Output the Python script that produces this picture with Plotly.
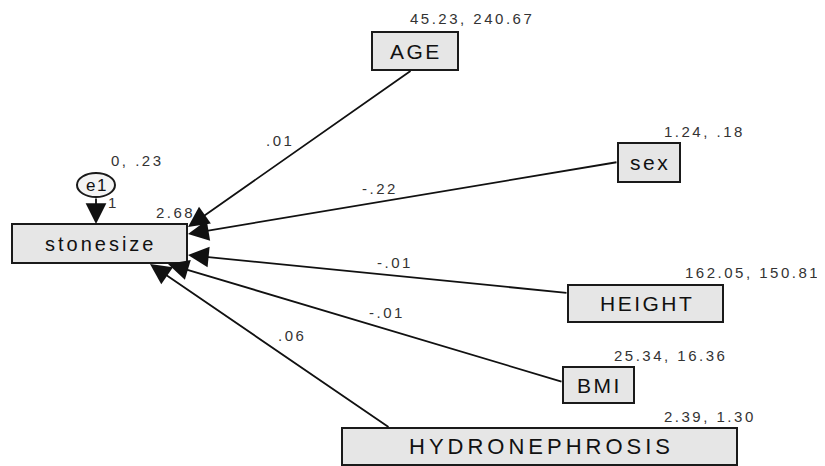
import plotly.graph_objects as go

# ---------------- data ----------------
predictors = ["AGE", "sex", "HEIGHT", "BMI", "HYDRONEPHROSIS"]
pred_means = [45.23, 1.24, 162.05, 25.34, 2.39]
pred_vars = [240.67, 0.18, 150.81, 16.36, 1.30]
path_coefs = [0.01, -0.22, -0.01, -0.01, 0.06]
outcome = "stonesize"
outcome_intercept = 2.68
error_name = "e1"
error_mean = 0
error_var = 0.23
error_loading = 1

# ---------------- layout (pixel positions of the diagram in the page) ----------------
W, H = 825, 466
PAGE_OFF = 8  # default body margin of the html page
outcome_box = (12, 187, 224, 263)
pred_boxes = [(372, 458, 32, 70), (618, 680, 143, 182), (568, 723, 285, 322),
              (563, 634, 367, 403), (342, 737, 428, 465)]
stat_pos = [(472, 18), (704, 131), (752, 272), (670, 355), (710, 416)]
tails = [(412, 70), (618, 162), (568, 293), (563, 382), (390, 428)]
tips = [(188, 227), (188, 234), (188, 255), (168, 264), (150, 264)]
coef_pos = [(280, 140), (380, 188), (395, 262), (387, 312), (292, 335)]
label_sizes = [21, 21, 21, 21, 22]
label_spacing = [2.5, 2.5, 2.5, 2.5, 4]
err_center = (96, 185)
err_r = (19, 12)
intercept_pos = (175, 212)
err_stat_pos = (137, 160)
loading_pos = (112, 202)

FONT = "Liberation Sans, Arial, sans-serif"


def amos(v):
    if v == 0:
        return "0"
    s = f"{v:.2f}"
    if s.startswith("0."):
        s = s[1:]
    elif s.startswith("-0."):
        s = "-" + s[2:]
    return s


def sp(t, ls):
    return f'<span style="letter-spacing:{ls}px">{t}</span>'


fig = go.Figure()
shapes = []
ann = []
AH = dict(arrowhead=2, arrowsize=2.3, arrowwidth=1.8, arrowcolor="#111", standoff=0)

# outcome box
x0, x1, y0, y1 = outcome_box
shapes.append(dict(type="rect", x0=x0, x1=x1, y0=y0, y1=y1, xref="x", yref="y",
                   fillcolor="#e6e6e6", line=dict(color="#1a1a1a", width=2)))
ann.append(dict(x=(x0 + x1) / 2 + 1.5, y=(y0 + y1) / 2, text=sp(outcome, 3), showarrow=False,
                font=dict(family=FONT, size=20, color="#111")))
ann.append(dict(x=intercept_pos[0], y=intercept_pos[1], text=sp(amos(outcome_intercept), 2.5),
                showarrow=False, font=dict(family=FONT, size=15, color="#333")))

# predictor boxes, stats, paths
for i, name in enumerate(predictors):
    x0, x1, y0, y1 = pred_boxes[i]
    shapes.append(dict(type="rect", x0=x0, x1=x1, y0=y0, y1=y1, xref="x", yref="y",
                       fillcolor="#e6e6e6", line=dict(color="#1a1a1a", width=2)))
    ann.append(dict(x=(x0 + x1) / 2 + label_spacing[i] / 2, y=(y0 + y1) / 2,
                    text=sp(name, label_spacing[i]), showarrow=False,
                    font=dict(family=FONT, size=label_sizes[i], color="#111")))
    ann.append(dict(x=stat_pos[i][0], y=stat_pos[i][1],
                    text=sp(f"{amos(pred_means[i])}, {amos(pred_vars[i])}", 2.5),
                    showarrow=False, font=dict(family=FONT, size=15, color="#333")))
    ann.append(dict(x=tips[i][0], y=tips[i][1], ax=tails[i][0], ay=tails[i][1],
                    axref="x", ayref="y", text="", showarrow=True, **AH))
    ann.append(dict(x=coef_pos[i][0], y=coef_pos[i][1], text=sp(amos(path_coefs[i]), 2.5),
                    showarrow=False, font=dict(family=FONT, size=15, color="#333")))

# error term
cx, cy = err_center
rx, ry = err_r
shapes.append(dict(type="circle", x0=cx - rx, x1=cx + rx, y0=cy - ry, y1=cy + ry,
                   xref="x", yref="y", fillcolor="#f4f4f4", line=dict(color="#1a1a1a", width=2)))
ann.append(dict(x=cx + 1, y=cy, text=sp(error_name, 1.5), showarrow=False,
                font=dict(family=FONT, size=17, color="#111")))
ann.append(dict(x=cx, y=outcome_box[2], ax=cx, ay=cy + ry, axref="x", ayref="y", text="",
                showarrow=True, **AH))
ann.append(dict(x=loading_pos[0], y=loading_pos[1], text=str(error_loading), showarrow=False,
                font=dict(family=FONT, size=15, color="#333")))
ann.append(dict(x=err_stat_pos[0], y=err_stat_pos[1],
                text=sp(f"{amos(error_mean)}, {amos(error_var)}", 2.5), showarrow=False,
                font=dict(family=FONT, size=15, color="#333")))

fig.update_layout(
    width=W - PAGE_OFF, height=H - PAGE_OFF, margin=dict(l=0, r=0, t=0, b=0),
    paper_bgcolor="white", plot_bgcolor="white",
    xaxis=dict(range=[PAGE_OFF, W], visible=False, fixedrange=True),
    yaxis=dict(range=[H, PAGE_OFF], visible=False, fixedrange=True),
    shapes=shapes, annotations=ann, showlegend=False,
)
fig.write_html("out.html")
